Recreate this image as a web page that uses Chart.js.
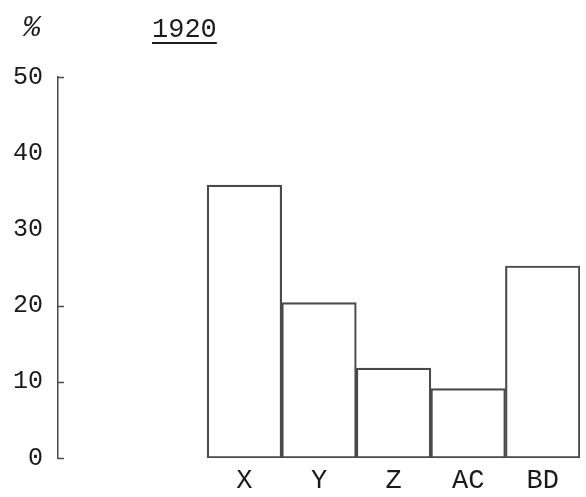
<!DOCTYPE html>
<html>
<head>
<meta charset="utf-8">
<script src="https://cdn.jsdelivr.net/npm/chart.js@4"></script>
<style>
  html, body { margin: 0; padding: 0; background: #fff; }
  #wrap { position: relative; width: 586px; height: 497px; }
  .txt { position: absolute; font-family: 'Liberation Mono', monospace; color: #1c1c1c; }
  #pct { left: 23px; top: 12px; font-size: 29px; font-style: italic; }
  #year { left: 152px; top: 15px; font-size: 27px; text-decoration: underline; text-decoration-thickness: 2px; text-underline-offset: 5px; }
</style>
</head>
<body>
<div id="wrap">
  <canvas id="chart" width="586" height="497"></canvas>
  <div class="txt" id="pct">%</div>
  <div class="txt" id="year">1920</div>
</div>
<script>
// ── Data ───────────────────────────────────────────────────────────────
const categories = ['X', 'Y', 'Z', 'AC', 'BD'];
const values     = [35.8, 20.4, 11.8, 9.1, 25.2];
const yTicks     = [0, 10, 20, 30, 40, 50];
const markedTicks = [0, 10, 20, 50];   // only these carry a small mark on the sheet

// two empty slots keep the bars clear of the axis, as on the original sheet
const lead = 2;
const labels = Array(lead).fill('').concat(categories);
const data   = Array(lead).fill(null).concat(values);

const INK  = '#1a1a1a';
const LINE = '#4a4a4a';
const FONT = "'Liberation Mono', monospace";

// small tick marks on the inside of the y axis
const innerTicks = {
  id: 'innerTicks',
  afterDraw(chart) {
    const { ctx, scales: { y } } = chart;
    ctx.save();
    ctx.strokeStyle = LINE;
    ctx.lineWidth = 1.5;
    markedTicks.forEach(v => {
      const py = Math.round(y.getPixelForValue(v)) + 0.5;
      ctx.beginPath();
      ctx.moveTo(y.right, py);
      ctx.lineTo(y.right + 6, py);
      ctx.stroke();
    });
    ctx.restore();
  }
};

new Chart(document.getElementById('chart'), {
  type: 'bar',
  data: {
    labels,
    datasets: [{
      data,
      backgroundColor: 'rgba(0,0,0,0)',
      borderColor: LINE,
      borderWidth: 1.5,
      borderSkipped: false,
      categoryPercentage: 1,
      barPercentage: 1
    }]
  },
  options: {
    responsive: false,
    animation: false,
    layout: { padding: { top: 77, right: 6, bottom: 2, left: 12 } },
    plugins: { legend: { display: false }, tooltip: { enabled: false } },
    scales: {
      x: {
        afterFit: s => { s.height = 37; },
        grid: { display: false, drawTicks: false },
        border: { display: false },
        ticks: { color: INK, font: { family: FONT, size: 27 }, padding: 7, maxRotation: 0, autoSkip: false }
      },
      y: {
        min: 0, max: 50,
        afterBuildTicks: s => { s.ticks = yTicks.map(v => ({ value: v })); },
        afterFit: s => { s.width = 46; },
        grid: { display: false, drawTicks: false },
        border: { display: true, color: LINE, width: 1.5 },
        ticks: { color: INK, font: { family: FONT, size: 25 }, padding: 15 }
      }
    }
  },
  plugins: [innerTicks]
});
</script>
</body>
</html>
